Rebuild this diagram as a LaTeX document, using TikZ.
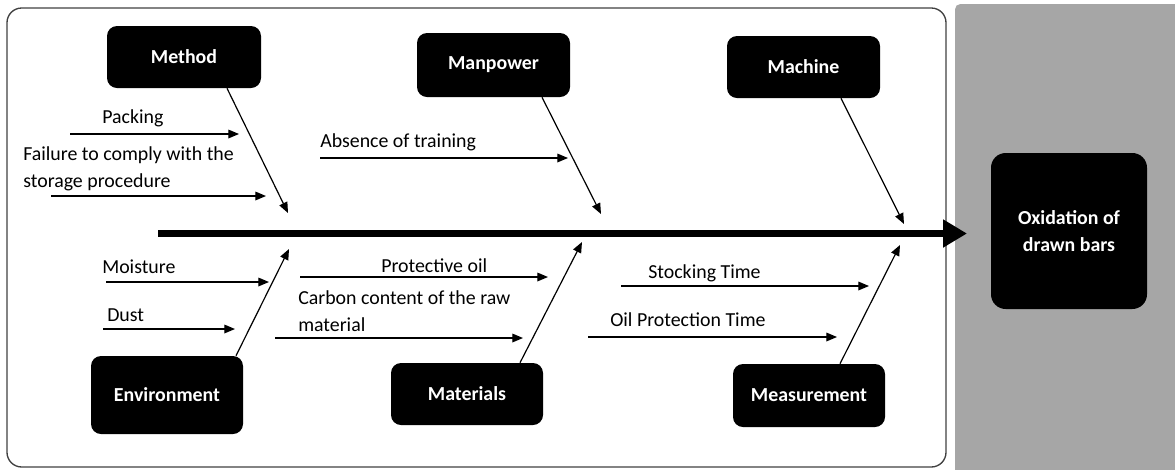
\documentclass[tikz,border=0pt]{standalone}
\usepackage{fontspec}
\setmainfont{Carlito}
\usetikzlibrary{arrows.meta,calc}
\definecolor{panelgray}{HTML}{A6A6A6}
\definecolor{framegray}{HTML}{404040}
\begin{document}
\begin{tikzpicture}[x=0.75pt,y=-0.75pt,
  cat/.style={fill=black,text=white,rounded corners=7.5pt,font=\bfseries\fontsize{14.9}{20}\selectfont,align=center,inner sep=0pt},
  lbl/.style={font=\fontsize{14.9}{20}\selectfont,inner sep=0pt,anchor=base west,align=left},
  cause/.style={line width=0.9pt,-{Triangle[length=8pt,width=6.5pt]}},
  bone/.style={line width=0.9pt,-{Triangle[length=8pt,width=6.5pt]}}]
\path[use as bounding box,clip] (0,0) rectangle (1175,469);
% panels
\fill[panelgray,rounded corners=4pt] (955,4) rectangle (1195,490);
\draw[framegray,line width=1pt,rounded corners=11pt] (7,8) rectangle (946,467);
% category boxes
\node[cat,minimum width=115.5pt,minimum height=46.5pt] (method) at (184,57) {Method};
\node[cat,minimum width=114.75pt,minimum height=48pt] (manpower) at (493.5,65) {Manpower};
\node[cat,minimum width=114.75pt,minimum height=46.5pt] (machine) at (803.5,67) {Machine};
\node[cat,minimum width=114pt,minimum height=58.5pt] (environment) at (167,395) {Environment};
\node[cat,minimum width=114pt,minimum height=46.5pt] (materials) at (467,394) {Materials};
\node[cat,minimum width=114pt,minimum height=47.25pt] (measurement) at (809,395.5) {Measurement};
\node[cat,rounded corners=11pt,minimum width=117pt,minimum height=117pt] (effect) at (1069,231) {Oxidation of\\drawn bars};
% spine
\coordinate (sL) at (158,233.5);
\coordinate (sR) at (967,233.5);
\draw[line width=5.6pt,-{Triangle[length=18pt,width=20pt]}] (sL) -- (sR);
% bones
\coordinate (mEnd) at (288,213);
\coordinate (pEnd) at (601,214);
\coordinate (cEnd) at (904,224);
\coordinate (eEnd) at (289,249);
\coordinate (tEnd) at (582,242);
\coordinate (sEnd) at (900,245);
\draw[bone] ($(method.south)+(43,0)$) -- (mEnd);
\draw[bone] ($(manpower.south)+(48.5,0)$) -- (pEnd);
\draw[bone] ($(machine.south)+(37.5,0)$) -- (cEnd);
\draw[bone] ($(environment.north)+(69,0)$) -- (eEnd);
\draw[bone] ($(materials.north)+(53,0)$) -- (tEnd);
\draw[bone] ($(measurement.north)+(31,0)$) -- (sEnd);
% causes
\coordinate (pk0) at (70,134);   \coordinate (pk1) at (239,134);
\coordinate (fl0) at (51,196);   \coordinate (fl1) at (266,196);
\coordinate (ab0) at (320,158);  \coordinate (ab1) at (568,158);
\coordinate (mo0) at (106,282);  \coordinate (mo1) at (269,282);
\coordinate (du0) at (103,329);  \coordinate (du1) at (235,329);
\coordinate (po0) at (300,277);  \coordinate (po1) at (548,277);
\coordinate (cc0) at (275,338);  \coordinate (cc1) at (523,338);
\coordinate (st0) at (621,286);  \coordinate (st1) at (869,286);
\coordinate (op0) at (588,337);  \coordinate (op1) at (837,337);
\draw[cause] (pk0) -- (pk1);
\draw[cause] (fl0) -- (fl1);
\draw[cause] (ab0) -- (ab1);
\draw[cause] (mo0) -- (mo1);
\draw[cause] (du0) -- (du1);
\draw[cause] (po0) -- (po1);
\draw[cause] (cc0) -- (cc1);
\draw[cause] (st0) -- (st1);
\draw[cause] (op0) -- (op1);
% labels
\node[lbl] (tpk) at (102,123) {Packing};
\node[lbl] (tfl) at (23,187) {Failure to comply with the\\storage procedure};
\node[lbl] (tab) at (320,147) {Absence of training};
\node[lbl] (tmo) at (102,273) {Moisture};
\node[lbl] (tdu) at (107,321) {Dust};
\node[lbl] (tpo) at (381,272) {Protective oil};
\node[lbl] (tcc) at (298,331) {Carbon content of the raw\\material};
\node[lbl] (tst) at (648,278) {Stocking Time};
\node[lbl] (top) at (610,326) {Oil Protection Time};
\end{tikzpicture}
\end{document}
